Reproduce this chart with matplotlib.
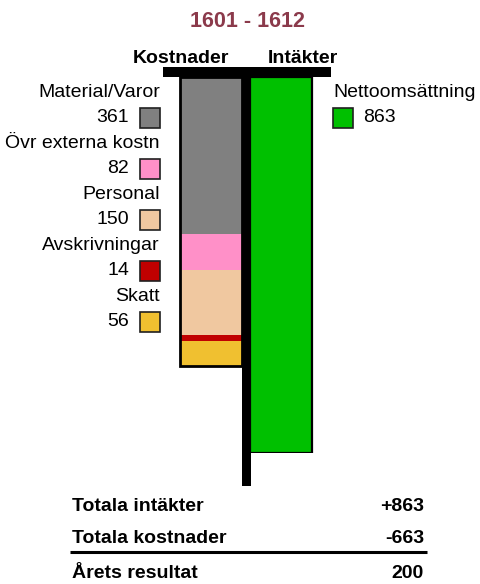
import matplotlib
matplotlib.use('Agg')
import matplotlib.pyplot as plt
from matplotlib.patches import Rectangle
import numpy as np

title = '1601 - 1612'
cost_names = ['Material/Varor', 'Övr externa kostn', 'Personal', 'Avskrivningar', 'Skatt']
cost_values = [361, 82, 150, 14, 56]
cost_colors = ['#808080', '#FF90C8', '#F0C8A0', '#C00000', '#F0C030']
income_names = ['Nettoomsättning']
income_values = [863]
income_colors = ['#00C000']
summary_labels = ['Totala intäkter', 'Totala kostnader', 'Årets resultat']

plt.rcParams['font.family'] = ['Liberation Sans', 'DejaVu Sans']

W, H = 481, 584
fig = plt.figure(figsize=(W / 100, H / 100), dpi=100)

total_cost = sum(cost_values)
total_income = sum(income_values)
result = total_income - total_cost

# bar axes: y in value units, x in pixels
top_px, bottom_px = 77, 453
ax = fig.add_axes([0, (H - bottom_px) / H, 1, (bottom_px - top_px) / H])
ax.set_xlim(0, W)
ax.set_ylim(max(total_income, total_cost), 0)
ax.axis('off')

bottoms = np.concatenate([[0], np.cumsum(cost_values)[:-1]])
ax.bar(211.25, cost_values, width=61.5, bottom=bottoms, color=cost_colors, linewidth=0)
ax.bar(211.25, total_cost, width=61.5, fill=False, edgecolor='black', linewidth=2.0)
ax.bar(281.25, income_values, width=62.5, color=income_colors, edgecolor='black', linewidth=1.6)

# overlay in pixel coordinates for texts and decoration
ov = fig.add_axes([0, 0, 1, 1], zorder=5)
ov.set_xlim(0, W)
ov.set_ylim(H, 0)
ov.axis('off')
ov.patch.set_alpha(0)

ov.add_patch(Rectangle((242, 67), 9, 419, color='black', lw=0))
ov.add_patch(Rectangle((163, 67), 168, 10, color='black', lw=0))

ov.text(248, 27, title, ha='center', va='baseline', fontsize=15.5,
        fontweight='bold', color='#8B3A4B')
ov.text(229, 63, 'Kostnader', ha='right', va='baseline', fontsize=14, fontweight='bold')
ov.text(268, 63, 'Intäkter', ha='left', va='baseline', fontsize=14, fontweight='bold')

for i, (name, val, col) in enumerate(zip(cost_names, cost_values, cost_colors)):
    y0 = 97 + i * 51
    ov.text(160, y0, name, ha='right', va='baseline', fontsize=14)
    ov.text(129, y0 + 25, str(val), ha='right', va='baseline', fontsize=14)
    ov.add_patch(Rectangle((140, y0 + 11), 20, 20, facecolor=col,
                           edgecolor='#202020', lw=1.2))

for i, (name, val, col) in enumerate(zip(income_names, income_values, income_colors)):
    y0 = 97 + i * 51
    ov.text(333, y0, name, ha='left', va='baseline', fontsize=14)
    ov.text(363, y0 + 25, str(val), ha='left', va='baseline', fontsize=14)
    ov.add_patch(Rectangle((333, y0 + 11), 20, 20, facecolor=col,
                           edgecolor='#202020', lw=1.2))

summary_values = ['+%d' % total_income, '-%d' % total_cost, '%d' % result]
for lab, val, yb in zip(summary_labels, summary_values, [511, 543, 578]):
    ov.text(72, yb, lab, ha='left', va='baseline', fontsize=14, fontweight='bold')
    ov.text(424, yb, val, ha='right', va='baseline', fontsize=14, fontweight='bold')
ov.plot([70, 427], [552, 552], color='black', lw=2.2, solid_capstyle='butt')

fig.savefig('out.png', dpi=100)
